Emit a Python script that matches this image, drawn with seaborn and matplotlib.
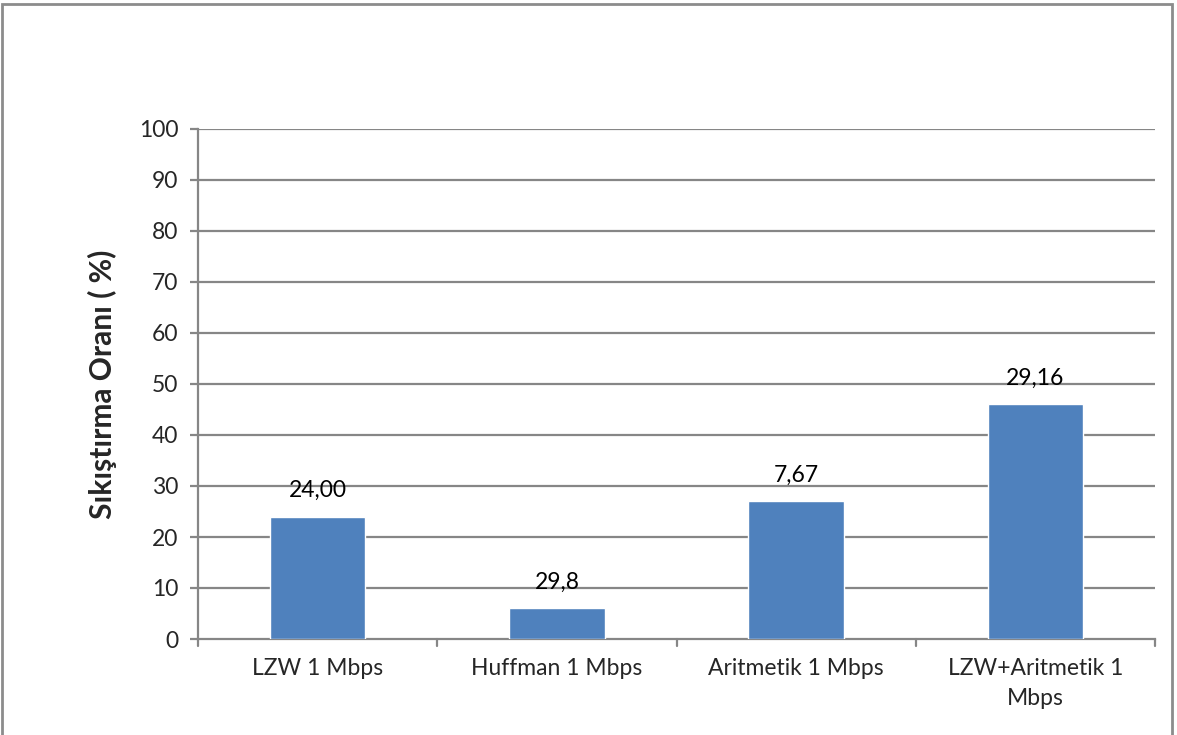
import matplotlib
matplotlib.use("Agg")
import matplotlib.pyplot as plt
from matplotlib.patches import Rectangle
import seaborn as sns
import pandas as pd

categories = ["LZW 1 Mbps", "Huffman 1 Mbps", "Aritmetik 1 Mbps", "LZW+Aritmetik 1\nMbps"]
values = [24, 6, 27, 46]
bar_labels = ["24,00", "29,8", "7,67", "29,16"]
y_ticks = [0, 10, 20, 30, 40, 50, 60, 70, 80, 90, 100]

sns.set_theme(style="white")
plt.rcParams["font.family"] = ["Lato", "DejaVu Sans"]

W, H = 1177, 735
fig = plt.figure(figsize=(W / 100, H / 100), dpi=100)
ax = fig.add_axes([198 / W, 1 - 639 / H, (1155 - 198) / W, (639 - 129) / H])

grid_c = "#868686"
df = pd.DataFrame({"cat": categories, "val": values})
sns.barplot(data=df, x="cat", y="val", color="#4F81BD", width=0.4,
            saturation=1, ax=ax, zorder=3)

ax.set_ylim(0, 100)
ax.set_xlim(-0.5, len(categories) - 0.5)
ax.set_yticks(y_ticks)
ax.set_yticklabels([str(t) for t in y_ticks], fontsize=16.5)
for t in y_ticks[1:]:
    ax.axhline(t, color=grid_c, lw=1.6, zorder=1)

ax.set_xticks(range(len(categories)))
ax.set_xticklabels(categories, fontsize=16.5, linespacing=1.5)
ax.tick_params(axis="x", length=0, pad=14)
ax.tick_params(axis="y", direction="out", length=6, width=1.6, color=grid_c, pad=8,
               left=True)
# category divider ticks on the x axis
for b in [x - 0.5 for x in range(len(categories) + 1)]:
    ax.plot([b, b], [0, -1.4], color=grid_c, lw=1.6, clip_on=False, zorder=2)

for s in ["top", "right"]:
    ax.spines[s].set_visible(False)
for s in ["left", "bottom"]:
    ax.spines[s].set_color(grid_c)
    ax.spines[s].set_linewidth(1.6)

ax.set_xlabel("")
ax.set_ylabel("Sıkıştırma Oranı ( %)", fontsize=21.5, fontweight="bold", labelpad=16)

for i, (v, lab) in enumerate(zip(values, bar_labels)):
    ax.text(i, v + 3.0, lab, ha="center", va="bottom", fontsize=16.5, color="black", zorder=4)

# outer chart border
fig.add_artist(Rectangle((2 / W, -0.05), (1172 - 2) / W, 1 - 4 / H + 0.05,
                         transform=fig.transFigure, fill=False,
                         edgecolor="#8c8c8c", lw=2))

fig.savefig("out.png", dpi=100)
